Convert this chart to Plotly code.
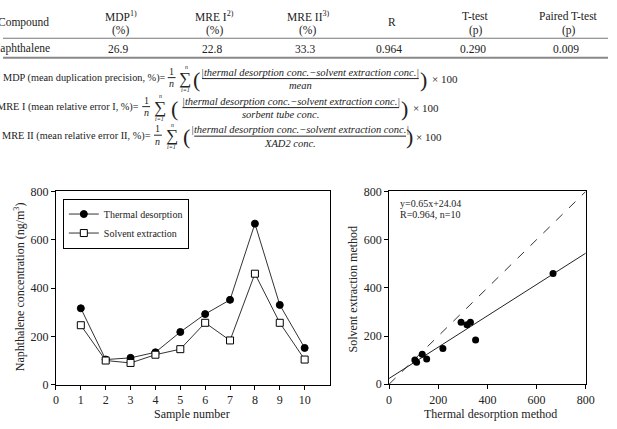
import plotly.graph_objects as go

# ---------------- data ----------------
samples = [1, 2, 3, 4, 5, 6, 7, 8, 9, 10]
thermal = [317, 105, 112, 135, 219, 293, 352, 667, 331, 153]
solvent = [247, 101, 91, 125, 148, 257, 184, 460, 257, 105]
slope, intercept = 0.65, 24.04
fit_x = [0, 800]
identity = [0, 800]

table_cols = ["Compound", "MDP<sup>1)</sup><br>(%)", "MRE I<sup>2)</sup><br>(%)",
              "MRE II<sup>3)</sup><br>(%)", "R", "T-test<br>(p)", "Paired T-test<br>(p)"]
table_vals = ["Naphthalene", "26.9", "22.8", "33.3", "0.964", "0.290", "0.009"]

W, H = 617, 429
FONT = "Liberation Serif"
TXT = "#222222"


def px(x):
    return x / W


def py(y):
    return 1 - y / H


fig = go.Figure()

# ---- left chart ----
fig.add_trace(go.Scatter(
    x=samples, y=thermal, mode="lines+markers", name="Thermal desorption",
    line=dict(color="#333333", width=1),
    marker=dict(symbol="circle", size=7, color="black", line=dict(color="black", width=1)),
    xaxis="x", yaxis="y"))
fig.add_trace(go.Scatter(
    x=samples, y=solvent, mode="lines+markers", name="Solvent extraction",
    line=dict(color="#333333", width=1),
    marker=dict(symbol="square", size=7, color="white", line=dict(color="black", width=1)),
    xaxis="x", yaxis="y"))

# ---- right chart ----
fig.add_trace(go.Scatter(
    x=identity, y=identity, mode="lines", showlegend=False,
    line=dict(color="#333333", width=1, dash="dash"), xaxis="x2", yaxis="y2"))
fig.add_trace(go.Scatter(
    x=fit_x, y=[slope * v + intercept for v in fit_x], mode="lines", showlegend=False,
    line=dict(color="#222222", width=1), xaxis="x2", yaxis="y2"))
fig.add_trace(go.Scatter(
    x=thermal, y=solvent, mode="markers", showlegend=False,
    marker=dict(symbol="circle", size=7, color="black"), xaxis="x2", yaxis="y2"))

axis_common = dict(showgrid=False, zeroline=False, showline=True, linecolor="black",
                   linewidth=1, mirror=True, ticks="outside", ticklen=4,
                   tickcolor="black", tickfont=dict(family=FONT, size=12, color=TXT))

fig.update_layout(
    width=W, height=H, margin=dict(l=0, r=0, t=0, b=0),
    paper_bgcolor="white", plot_bgcolor="white",
    font=dict(family=FONT, color=TXT),
    xaxis=dict(domain=[px(54), px(333)], range=[0, 11], tickvals=list(range(0, 11)),
               anchor="y", **axis_common),
    yaxis=dict(domain=[py(390.7), py(190.7)], range=[0, 800], tickvals=[0, 200, 400, 600, 800],
               anchor="x", **axis_common),
    xaxis2=dict(domain=[px(393.7), px(594.3)], range=[0, 800], tickvals=[0, 200, 400, 600, 800],
                anchor="y2", **axis_common),
    yaxis2=dict(domain=[py(390), py(190.7)], range=[0, 800], tickvals=[0, 200, 400, 600, 800],
                anchor="x2", **axis_common),
    legend=dict(x=px(61), y=py(198), xanchor="left", yanchor="top",
                bordercolor="black", borderwidth=1, bgcolor="white",
                font=dict(family=FONT, size=10, color=TXT), tracegroupgap=0,
                itemwidth=30),
    showlegend=True,
)

ann = []


def add_text(x, y, text, size=11.5, xanchor="center", italic=False):
    if italic:
        text = "<i>" + text + "</i>"
    ann.append(dict(x=px(x), y=py(y), xref="paper", yref="paper", text=text,
                    showarrow=False, xanchor=xanchor, yanchor="middle",
                    font=dict(family=FONT, size=size, color=TXT)))


# axis titles
add_text(193, 421, "Sample number", 12)
add_text(497, 421, "Thermal desorption method", 12)
ann.append(dict(x=px(17), y=py(289), xref="paper", yref="paper",
                text="Naphthalene concentration (ng/m<sup>3</sup>)", textangle=-90,
                showarrow=False, xanchor="center", yanchor="middle",
                font=dict(family=FONT, size=12, color=TXT)))
ann.append(dict(x=px(357), y=py(292), xref="paper", yref="paper",
                text="Solvent extraction method", textangle=-90,
                showarrow=False, xanchor="center", yanchor="middle",
                font=dict(family=FONT, size=12, color=TXT)))
# regression text
add_text(403, 203, "y=0.65x+24.04", 10, xanchor="left")
add_text(403, 214, "R=0.964, n=10", 10, xanchor="left")

# ---- table ----
col_x = [-7, 120, 216, 311, 397, 482, 577]
for i, (hdr, val) in enumerate(zip(table_cols, table_vals)):
    xa = "left" if i == 0 else "center"
    if "<br>" in hdr:
        top, bot = hdr.split("<br>")
        add_text(col_x[i], 9, top, 11.5, xa)
        add_text(col_x[i], 24, bot, 11.5, xa)
    else:
        add_text(col_x[i], 16, hdr, 11.5, xa)
    vx = -13 if i == 0 else col_x[i] - 3
    add_text(vx, 43.3, val, 11.5, xa)

shapes = [
    dict(type="line", xref="paper", yref="paper", x0=0, x1=1, y0=py(32.3), y1=py(32.3),
         line=dict(color="#777777", width=1)),
    dict(type="line", xref="paper", yref="paper", x0=0, x1=1, y0=py(52.5), y1=py(52.5),
         line=dict(color="#888888", width=2)),
]

# ---- formulas ----
numer = "|thermal desorption conc.−solvent extraction conc.|"
formulas = [
    # label, label_end, center_y, onen_x, sigma_x, lparen_x, bar_x0, bar_x1, rparen_x, x100_x, denominator
    ("MDP (mean duplication precision, %)=", 168, 74.5, 172, 186, 197, 203, 424, 429, 435, "mean"),
    ("MRE I (mean relative error I, %)=", 141, 104.5, 146, 160, 175, 183, 404, 409, 416, "sorbent tube conc."),
    ("MRE II (mean relative error II, %)=", 153, 134.0, 158, 172, 187, 195, 411, 415, 419, "XAD2 conc."),
]
for (lab, lend, cy, onx, sgx, lpx, b0, b1, rpx, xhx, den) in formulas:
    add_text(lend, cy - 1, lab, 10.3, xanchor="right")
    add_text(onx, cy - 8, "1", 10)
    add_text(onx, cy + 5, "n", 10, italic=True)
    shapes.append(dict(type="line", xref="paper", yref="paper", x0=px(onx - 4), x1=px(onx + 4),
                       y0=py(cy - 1.5), y1=py(cy - 1.5), line=dict(color=TXT, width=1)))
    add_text(sgx, cy - 1, "∑", 17)
    add_text(sgx + 1, cy - 12, "n", 6, italic=True)
    add_text(sgx, cy + 11, "i=1", 6, italic=True)
    add_text(lpx, cy, "(", 22)
    add_text(rpx, cy, ")", 22)
    add_text((b0 + b1) / 2, cy - 7, numer, 10.5, italic=True)
    add_text((b0 + b1) / 2 - 10, cy + 7, den, 10.5, italic=True)
    shapes.append(dict(type="line", xref="paper", yref="paper", x0=px(b0), x1=px(b1),
                       y0=py(cy - 0.5), y1=py(cy - 0.5), line=dict(color=TXT, width=1)))
    add_text(xhx, cy, "× 100", 11, xanchor="left")

fig.update_layout(annotations=ann, shapes=shapes)

fig.write_html("out.html")
